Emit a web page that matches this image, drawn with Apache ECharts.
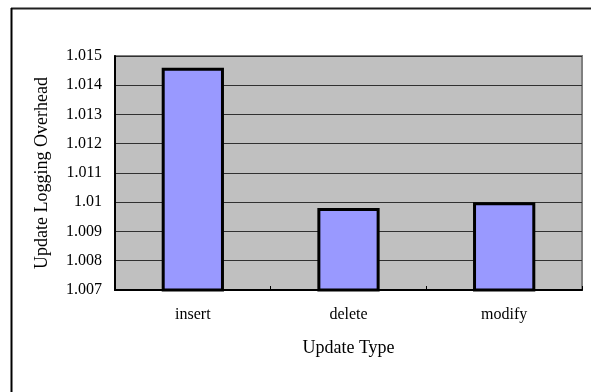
<!DOCTYPE html>
<html>
<head>
<meta charset="utf-8">
<style>
  html, body { margin: 0; padding: 0; background: #ffffff; }
  #chart { width: 591px; height: 392px; }
</style>
<script src="https://cdn.jsdelivr.net/npm/echarts@6/dist/echarts.min.js"></script>
</head>
<body>
<div id="chart"></div>
<script>
// Update types and their relative logging overhead
const categories = ['insert', 'delete', 'modify'];
const overhead = [1.0146, 1.0098, 1.0100];
const yMin = 1.007;
const yMax = 1.015;
const yStep = 0.001;

const serif = '"Liberation Serif", "Times New Roman", serif';

const chart = echarts.init(document.getElementById('chart'), null, { renderer: 'canvas' });

chart.setOption({
  animation: false,
  backgroundColor: '#ffffff',
  graphic: [
    // frame lines around the chart area (top and left edges)
    { type: 'line', shape: { x1: 11, y1: 8.5, x2: 591, y2: 8.5 }, style: { stroke: '#202020', lineWidth: 2 } },
    { type: 'line', shape: { x1: 11.5, y1: 8, x2: 11.5, y2: 392 }, style: { stroke: '#000000', lineWidth: 2 } }
  ],
  grid: {
    left: 115, right: 9, top: 56, bottom: 102,
    show: true,
    backgroundColor: '#C0C0C0',
    borderColor: '#808080',
    borderWidth: 2
  },
  xAxis: {
    type: 'category',
    data: categories,
    name: 'Update Type',
    nameLocation: 'middle',
    nameGap: 49,
    nameTextStyle: { fontFamily: serif, fontSize: 18, color: '#000' },
    axisLine: { lineStyle: { color: '#000', width: 2 } },
    axisTick: { show: true, inside: true, length: 4, lineStyle: { color: '#000', width: 1 } },
    axisLabel: { fontFamily: serif, fontSize: 16, color: '#000', margin: 17 }
  },
  yAxis: {
    type: 'value',
    min: yMin,
    max: yMax,
    interval: yStep,
    name: 'Update Logging Overhead',
    nameLocation: 'middle',
    nameGap: 64,
    nameTextStyle: { fontFamily: serif, fontSize: 18, color: '#000' },
    axisLine: { show: true, lineStyle: { color: '#000', width: 2 } },
    axisTick: { show: false },
    axisLabel: {
      fontFamily: serif, fontSize: 16, color: '#000', margin: 13,
      formatter: v => String(+v.toFixed(3))
    },
    splitLine: { show: true, lineStyle: { color: '#303030', width: 1 } }
  },
  series: [{
    type: 'bar',
    data: overhead,
    barWidth: '40%',
    itemStyle: { color: '#9999FF', borderColor: '#000', borderWidth: 3 }
  }]
});
</script>
</body>
</html>
